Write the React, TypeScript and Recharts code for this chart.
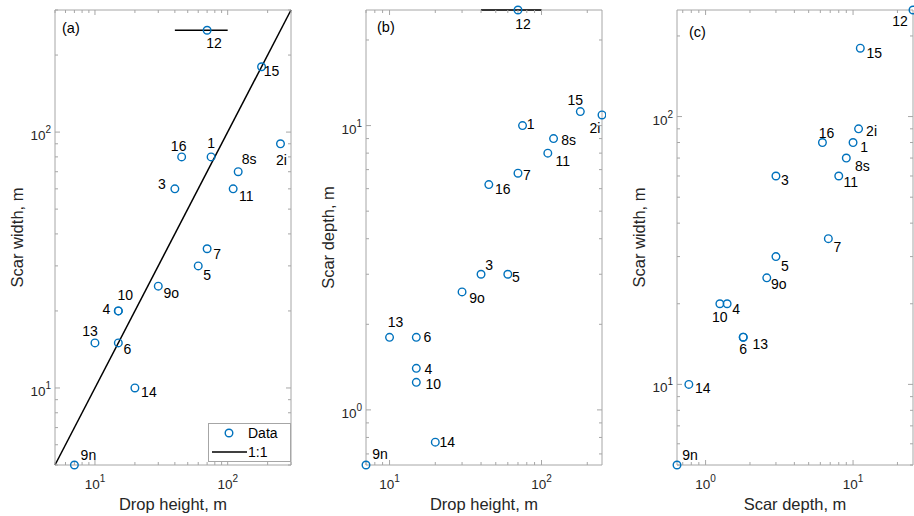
import React from 'react';
import { ScatterChart, Scatter, XAxis, YAxis, ReferenceLine, ReferenceArea, ErrorBar, Legend } from 'recharts';

const sites = ['1', '2i', '3', '4', '5', '6', '7', '8s', '9n', '9o', '10', '11', '12', '13', '14', '15', '16'];
const dropHeight = [75, 250, 40, 15, 60, 15, 70, 120, 7, 30, 15, 110, 70, 10, 20, 180, 45];
const scarWidth = [80, 90, 60, 20, 30, 15, 35, 70, 5, 25, 20, 60, 250, 15, 10, 180, 80];
const scarDepth = [10, 10.9, 3, 1.4, 3, 1.8, 6.8, 9, 0.64, 2.6, 1.25, 8, 25.5, 1.8, 0.77, 11.2, 6.2];

// drop height range of site 12 (horizontal bar)
const dropRange12 = [40, 100];
const oneToOne = [5, 300];

const FONT = '"Liberation Sans", Arial, Helvetica, sans-serif';
const AXIS = '#a6a6a6';
const BLUE = '#0072BD';
const PLOT_TOP = 10;
const PLOT_BOTTOM = 465;
const PLOT_H = PLOT_BOTTOM - PLOT_TOP;

// label offsets (text centre relative to the marker), per panel
const placeA: Record<string, [number, number]> = {
  '1': [0, -14], '2i': [1, 16], '3': [-13, -5], '4': [-12, -2], '5': [9, 9], '6': [9, 6], '7': [10, 5],
  '8s': [11, -13], '9n': [14, -10], '9o': [13, 7], '10': [7, -16], '11': [13, 7], '12': [7, 13],
  '13': [-5, -12], '14': [14, 4], '15': [10, 4], '16': [-3, -11],
};
const placeB: Record<string, [number, number]> = {
  '1': [8, -2], '2i': [-7, 13], '3': [8, -9], '4': [12, 1], '5': [8, 3], '6': [11, 0], '7': [9, 2],
  '8s': [15, 1], '9n': [14, -11], '9o': [15, 6], '10': [17, 2], '11': [15, 8], '12': [5, 14],
  '13': [6, -15], '14': [12, 0], '15': [-5, -12], '16': [14, 4],
};
const placeC: Record<string, [number, number]> = {
  '1': [11, 4], '2i': [13, 2], '3': [9, 4], '4': [9, 5], '5': [9, 9], '6': [0, 12], '7': [9, 8],
  '8s': [16, 8], '9n': [13, -10], '9o': [12, 6], '10': [0, 13], '11': [12, 6], '12': [-13, 11],
  '13': [17, 7], '14': [14, 4], '15': [14, 5], '16': [4, -10],
};

function logTicks([lo, hi]: number[]) {
  const out: number[] = [];
  for (let e = Math.floor(Math.log10(lo)); e <= Math.ceil(Math.log10(hi)); e++) {
    for (let m = 1; m <= 9; m++) {
      const v = m * Math.pow(10, e);
      if (v >= lo * 0.999 && v <= hi * 1.001) out.push(v);
    }
  }
  return out;
}

const decade = (v: number) => {
  const l = Math.log10(v);
  return Math.abs(l - Math.round(l)) < 1e-6 ? Math.round(l) : null;
};

function XTick(props: any) {
  const { x, y, payload } = props;
  const e = decade(payload.value);
  const len = e !== null ? 5 : 3;
  const top = y - PLOT_H;
  return (
    <g>
      <line x1={x} x2={x} y1={y} y2={y - len} stroke={AXIS} />
      <line x1={x} x2={x} y1={top} y2={top + len} stroke={AXIS} />
      {e !== null && (
        <text x={x} y={y + 24} textAnchor="middle" fontSize={13.5} fill="#262626" fontFamily={FONT}>
          10<tspan dy={-7} fontSize={10}>{e}</tspan>
        </text>
      )}
    </g>
  );
}

function makeYTick(plotW: number) {
  return (props: any) => {
    const { x, y, payload } = props;
    const e = decade(payload.value);
    const len = e !== null ? 5 : 3;
    const right = x + plotW;
    return (
      <g>
        <line x1={x} x2={x + len} y1={y} y2={y} stroke={AXIS} />
        <line x1={right} x2={right - len} y1={y} y2={y} stroke={AXIS} />
        {e !== null && (
          <text x={x - 4} y={y + 8} textAnchor="end" fontSize={13.5} fill="#262626" fontFamily={FONT}>
            10<tspan dy={-7} fontSize={10}>{e}</tspan>
          </text>
        )}
      </g>
    );
  };
}

function makeMarker(place: Record<string, [number, number]>) {
  return (props: any) => {
    const { cx, cy, payload } = props;
    const [dx, dy] = place[payload.name] || [10, 0];
    return (
      <g>
        <circle cx={cx} cy={cy} r={3.8} fill="none" stroke={BLUE} strokeWidth={1.4} />
        <text x={cx + dx} y={cy + dy} textAnchor="middle" dominantBaseline="central" fontSize={14} fill="#000" fontFamily={FONT}>
          {payload.name}
        </text>
      </g>
    );
  };
}

function Decor(props: any) {
  const { viewBox, letter, letterPos, xTitle, yTitle } = props;
  const { x, y, width, height } = viewBox;
  const yx = x - 38;
  const yy = y + height / 2;
  return (
    <g fontFamily={FONT} fill="#262626">
      <text x={x + letterPos[0]} y={y + letterPos[1]} dominantBaseline="central" fontSize={14.5} fill="#000">{letter}</text>
      <text x={x + width / 2} y={y + height + 45} textAnchor="middle" fontSize={16.5}>{xTitle}</text>
      <text x={yx} y={yy} textAnchor="middle" dominantBaseline="central" fontSize={16.5} transform={`rotate(-90, ${yx}, ${yy})`}>{yTitle}</text>
    </g>
  );
}

function LegendBox() {
  return (
    <div style={{ width: 83, height: 39, boxSizing: 'border-box', border: `1px solid ${AXIS}`, background: '#fff' }}>
      <svg width={81} height={37} style={{ display: 'block' }}>
        <circle cx={20} cy={9} r={3.8} fill="none" stroke={BLUE} strokeWidth={1.4} />
        <text x={39} y={9} dominantBaseline="central" fontSize={14} fontFamily={FONT} fill="#000">Data</text>
        <line x1={3} x2={38} y1={28} y2={28} stroke="#000" strokeWidth={1.5} />
        <text x={39} y={28} dominantBaseline="central" fontSize={14} fontFamily={FONT} fill="#000">1:1</text>
      </svg>
    </div>
  );
}

interface PanelProps {
  left: number;
  width: number;
  plotLeft: number;
  plotRight: number;
  xs: number[];
  ys: number[];
  xDomain: number[];
  yDomain: number[];
  xTitle: string;
  yTitle: string;
  letter: string;
  letterPos: number[];
  place: Record<string, [number, number]>;
  dropBar?: boolean;
  withLine?: boolean;
}

function Panel(p: PanelProps) {
  const i12 = sites.indexOf('12');
  const data = sites.map((name, i) => ({
    name,
    x: p.xs[i],
    y: p.ys[i],
    xErr: p.dropBar && i === i12 ? [p.xs[i] - dropRange12[0], dropRange12[1] - p.xs[i]] : undefined,
  }));
  const yAxisW = p.plotLeft - p.left;
  const plotW = p.plotRight - p.plotLeft;
  const YTick = makeYTick(plotW);
  return (
    <div style={{ position: 'absolute', left: p.left, top: 0 }}>
      <ScatterChart width={p.width} height={516} margin={{ top: PLOT_TOP, right: p.width - (p.plotRight - p.left), bottom: 0, left: 0 }}>
        <XAxis dataKey="x" type="number" scale="log" domain={p.xDomain} ticks={logTicks(p.xDomain)}
          interval={0} tickSize={0} tickMargin={0} axisLine={false} tick={<XTick />} height={516 - PLOT_BOTTOM} />
        <YAxis dataKey="y" type="number" scale="log" domain={p.yDomain} ticks={logTicks(p.yDomain)}
          interval={0} tickSize={0} tickMargin={0} axisLine={false} tick={<YTick />} width={yAxisW} />
        <ReferenceArea x1={p.xDomain[0]} x2={p.xDomain[1]} y1={p.yDomain[0]} y2={p.yDomain[1]} fill="none" stroke={AXIS}
          strokeWidth={1} ifOverflow="visible"
          label={<Decor letter={p.letter} letterPos={p.letterPos} xTitle={p.xTitle} yTitle={p.yTitle} />} />
        {p.withLine && (
          <ReferenceLine segment={[{ x: oneToOne[0], y: oneToOne[0] }, { x: oneToOne[1], y: oneToOne[1] }]}
            stroke="#000" strokeWidth={1.5} ifOverflow="visible" />
        )}
        <Scatter name="Data" data={data} shape={makeMarker(p.place)} isAnimationActive={false}>
          {p.dropBar && <ErrorBar dataKey="xErr" direction="x" width={0} stroke="#000" strokeWidth={1.5} />}
        </Scatter>
        {p.withLine && (
          <Legend layout="horizontal" verticalAlign="middle" align="center"
            wrapperStyle={{ left: 208, top: 423, width: 83, height: 39 }} content={() => <LegendBox />} />
        )}
      </ScatterChart>
    </div>
  );
}

export default function App() {
  return (
    <div style={{ position: 'absolute', left: 0, top: 0, width: 914, height: 516, background: '#fff', fontFamily: FONT, overflow: 'hidden' }}>
      <Panel left={0} width={300} plotLeft={55} plotRight={291} xs={dropHeight} ys={scarWidth}
        xDomain={[5, 300]} yDomain={[5, 300]} xTitle="Drop height, m" yTitle="Scar width, m"
        letter="(a)" letterPos={[7, 18]} place={placeA} dropBar withLine />
      <Panel left={306} width={300} plotLeft={366} plotRight={602} xs={dropHeight} ys={scarDepth}
        xDomain={[7, 250]} yDomain={[0.64, 25.5]} xTitle="Drop height, m" yTitle="Scar depth, m"
        letter="(b)" letterPos={[11, 17]} place={placeB} dropBar />
      <Panel left={616} width={298} plotLeft={677} plotRight={913} xs={scarDepth} ys={scarWidth}
        xDomain={[0.64, 25.5]} yDomain={[5, 250]} xTitle="Scar depth, m" yTitle="Scar width, m"
        letter="(c)" letterPos={[12, 22]} place={placeC} />
    </div>
  );
}
